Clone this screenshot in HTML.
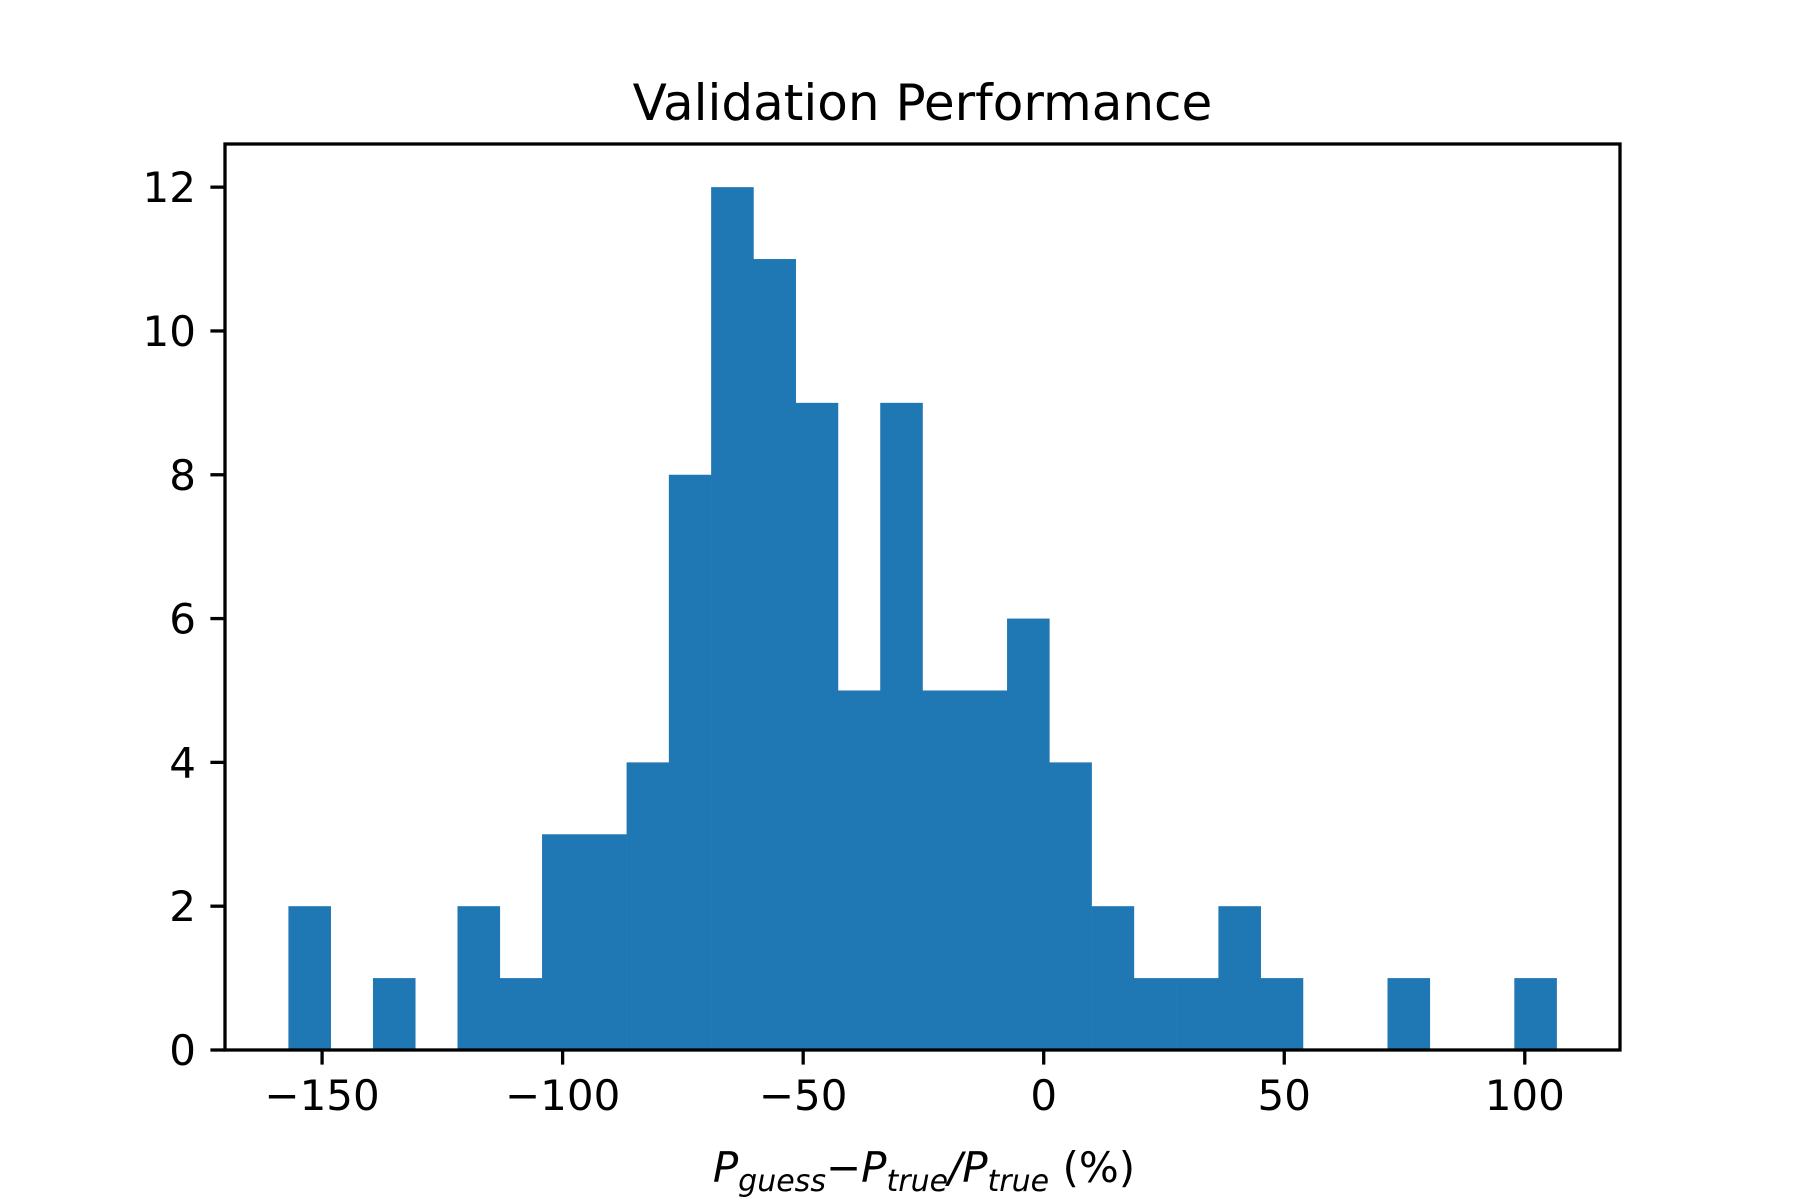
<!DOCTYPE html>
<html><head><meta charset="utf-8"><style>
html,body{margin:0;padding:0;background:#fff;}
svg{display:block;font-family:"DejaVu Sans","Liberation Sans",sans-serif;}
</style></head>
<body>
<svg id="chart" width="1800" height="1200" viewBox="0 0 1800 1200" xmlns="http://www.w3.org/2000/svg">
<rect x="0" y="0" width="1800" height="1200" fill="#fff"/>
<text x="922.5" y="120" font-size="50" text-anchor="middle" fill="#000">Validation Performance</text>
<g id="bars"></g>
<g id="axes"></g>
<text x="924" y="1182" font-size="42" text-anchor="middle" fill="#000"><tspan font-style="italic">P</tspan><tspan font-style="italic" font-size="30" dy="9">guess</tspan><tspan dy="-9">−</tspan><tspan font-style="italic">P</tspan><tspan font-style="italic" font-size="30" dy="9">true</tspan><tspan font-style="italic" dy="-9">/P</tspan><tspan font-style="italic" font-size="30" dy="9">true</tspan><tspan dy="-9"> (%)</tspan></text>
</svg>
<script>
const binStart = -157.0;
const binWidth = 8.787;
const counts = [2,0,1,0,2,1,3,3,4,8,12,11,9,5,9,5,5,6,4,2,1,1,2,1,0,0,1,0,0,1];
const xTicks = [-150,-100,-50,0,50,100];
const xTickLabels = ["−150","−100","−50","0","50","100"];
const yTicks = [0,2,4,6,8,10,12];
const yTickLabels = ["0","2","4","6","8","10","12"];

const NS = "http://www.w3.org/2000/svg";
const L = 225, R = 1620, T = 144, B = 1050;
const xMinData = binStart, xMaxData = binStart + binWidth * counts.length;
const pad = (xMaxData - xMinData) * 0.05;
const xMin = xMinData - pad, xMax = xMaxData + pad;
const yMax = Math.max(...counts) * 1.05;
function xs(v){ return L + (v - xMin) / (xMax - xMin) * (R - L); }
function ys(v){ return B - v / yMax * (B - T); }
function mk(tag, attrs){ const e = document.createElementNS(NS, tag); for (const k in attrs) e.setAttribute(k, attrs[k]); return e; }

const barsG = document.getElementById('bars');
counts.forEach((c, i) => {
  if (c <= 0) return;
  const x0 = xs(binStart + i * binWidth), x1 = xs(binStart + (i + 1) * binWidth);
  const r = mk('rect', {x: x0, y: ys(c), width: x1 - x0 + 0.3, height: ys(0) - ys(c), fill: '#1f77b4'});
  
  
  barsG.appendChild(r);
});

const ax = document.getElementById('axes');
const frame = mk('rect', {x: L, y: T, width: R - L, height: B - T, fill: 'none', stroke: '#000', 'stroke-width': 3.3});


ax.appendChild(frame);

xTicks.forEach((v, i) => {
  const x = xs(v);
  const t = mk('line', {x1: x, x2: x, y1: B, y2: B + 14.6, stroke: '#000', 'stroke-width': 3.3});
  
  
  ax.appendChild(t);
  const lb = mk('text', {x: x, y: B + 60, 'font-size': 42, 'text-anchor': 'middle', fill: '#000'});
  lb.textContent = xTickLabels[i];
  
  
  ax.appendChild(lb);
});
yTicks.forEach((v, i) => {
  const y = ys(v);
  const t = mk('line', {x1: L - 14.6, x2: L, y1: y, y2: y, stroke: '#000', 'stroke-width': 3.3});
  
  
  ax.appendChild(t);
  const lb = mk('text', {x: L - 29, y: y + 15, 'font-size': 42, 'text-anchor': 'end', fill: '#000'});
  lb.textContent = yTickLabels[i];
  
  
  ax.appendChild(lb);
});
</script>
</body></html>
